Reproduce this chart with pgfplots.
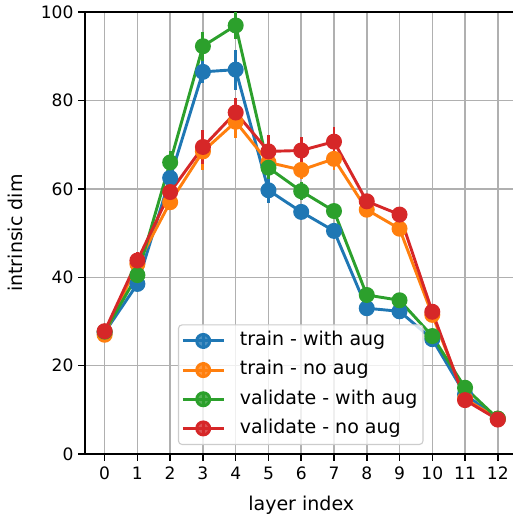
\documentclass[border=0pt]{standalone}
\usepackage{pgfplots}
\pgfplotsset{compat=1.18}
\usepackage{fontspec}
\setmainfont{DejaVu Sans}
\definecolor{tabblue}{HTML}{1F77B4}
\definecolor{taborange}{HTML}{FF7F0E}
\definecolor{tabgreen}{HTML}{2CA02C}
\definecolor{tabred}{HTML}{D62728}
\definecolor{gridgray}{HTML}{B0B0B0}
\definecolor{legedge}{HTML}{CCCCCC}
\newcommand\tickfont{\fontsize{12.3pt}{14pt}\selectfont}
\newcommand\labfont{\fontsize{13.7pt}{16pt}\selectfont}
\begin{document}
\begin{tikzpicture}
\pgfplotsset{
  errser/.style={
    color=#1, line width=2.1pt, mark=*, mark size=4.7pt,
    mark options={solid, fill=#1, draw=none},
    error bars/.cd, y dir=both, y explicit,
    error bar style={line width=2.1pt, color=#1},
    error mark=none,
  },
}
\useasboundingbox (-61.2pt,-46.8pt) rectangle (308.2pt,327.0pt);
\begin{axis}[
  at={(0pt,0pt)}, anchor=south west,
  scale only axis, width=311.5pt, height=318.2pt,
  xmin=-0.6, xmax=12.6, ymin=0, ymax=100,
  xtick={0,...,12}, ytick={0,20,...,100},
  grid=major,
  major grid style={color=gridgray, line width=1.1pt},
  axis line style={line width=1.3pt, black},
  tick style={line width=1.1pt, black},
  tick align=outside, major tick length=4.8pt,
  xtick pos=bottom, ytick pos=left,
  /pgf/number format/assume math mode=true,
  ticklabel style={font=\tickfont},
  xticklabel style={yshift=-1pt},
  xlabel={layer index}, ylabel={intrinsic dim},
  label style={font=\labfont},
  xlabel style={yshift=-5pt},
  ylabel style={yshift=6pt},
  legend cell align=left,
  legend image code/.code={
    \draw[#1, mark=none] (0pt,0pt) -- (29.5pt,0pt);
    \draw[#1, mark=none] (14.75pt,-5.5pt) -- (14.75pt,5.5pt);
    \fill[#1] (14.75pt,0pt) circle (4.7pt);
  },
  legend style={
    at={(rel axis cs:0.215,0.0204)}, anchor=south west,
    draw=legedge, line width=0.8pt, rounded corners=2.5pt,
    fill=white, fill opacity=0.8, text opacity=1,
    font=\labfont,
    inner xsep=2pt, inner ysep=5pt,
    nodes={inner ysep=0pt, text height=10pt, text depth=3pt},
    row sep=7.9pt,
    /tikz/every odd column/.append style={column sep=8.6pt},
  },
]
% train - with aug
\addplot[errser=tabblue] coordinates {
  (0,27.5) +- (0,0.5)
  (1,38.5) +- (0,1.0)
  (2,62.5) +- (0,1.5)
  (3,86.5) +- (0,2.5)
  (4,87.0) +- (0,4.5)
  (5,59.7) +- (0,2.8)
  (6,54.8) +- (0,1.5)
  (7,50.5) +- (0,1.0)
  (8,33.0) +- (0,1.0)
  (9,32.3) +- (0,0.8)
  (10,26.0) +- (0,1.0)
  (11,13.5) +- (0,0.5)
  (12,8.0) +- (0,0.3)
};
\addlegendentry{train - with aug}
% train - no aug
\addplot[errser=taborange] coordinates {
  (0,27.0) +- (0,0.5)
  (1,43.0) +- (0,1.0)
  (2,57.0) +- (0,1.5)
  (3,68.5) +- (0,4.3)
  (4,75.2) +- (0,3.7)
  (5,66.0) +- (0,2.5)
  (6,64.3) +- (0,2.0)
  (7,66.8) +- (0,2.5)
  (8,55.3) +- (0,1.0)
  (9,51.0) +- (0,1.0)
  (10,31.5) +- (0,1.0)
  (11,12.5) +- (0,0.5)
  (12,8.0) +- (0,0.3)
};
\addlegendentry{train - no aug}
% validate - with aug
\addplot[errser=tabgreen] coordinates {
  (0,27.7) +- (0,0.5)
  (1,40.5) +- (0,1.0)
  (2,66.0) +- (0,2.5)
  (3,92.3) +- (0,3.3)
  (4,97.0) +- (0,3.0)
  (5,64.8) +- (0,2.5)
  (6,59.5) +- (0,2.0)
  (7,55.0) +- (0,1.0)
  (8,36.0) +- (0,1.0)
  (9,34.8) +- (0,1.0)
  (10,26.7) +- (0,1.0)
  (11,15.0) +- (0,0.5)
  (12,8.0) +- (0,0.3)
};
\addlegendentry{validate - with aug}
% validate - no aug
\addplot[errser=tabred] coordinates {
  (0,27.8) +- (0,0.5)
  (1,43.8) +- (0,2.0)
  (2,59.3) +- (0,1.5)
  (3,69.5) +- (0,3.8)
  (4,77.3) +- (0,3.2)
  (5,68.5) +- (0,3.7)
  (6,68.7) +- (0,3.0)
  (7,70.7) +- (0,3.3)
  (8,57.2) +- (0,1.0)
  (9,54.2) +- (0,1.0)
  (10,32.2) +- (0,1.0)
  (11,12.2) +- (0,0.5)
  (12,7.8) +- (0,0.3)
};
\addlegendentry{validate - no aug}
\end{axis}
\end{tikzpicture}
\end{document}
